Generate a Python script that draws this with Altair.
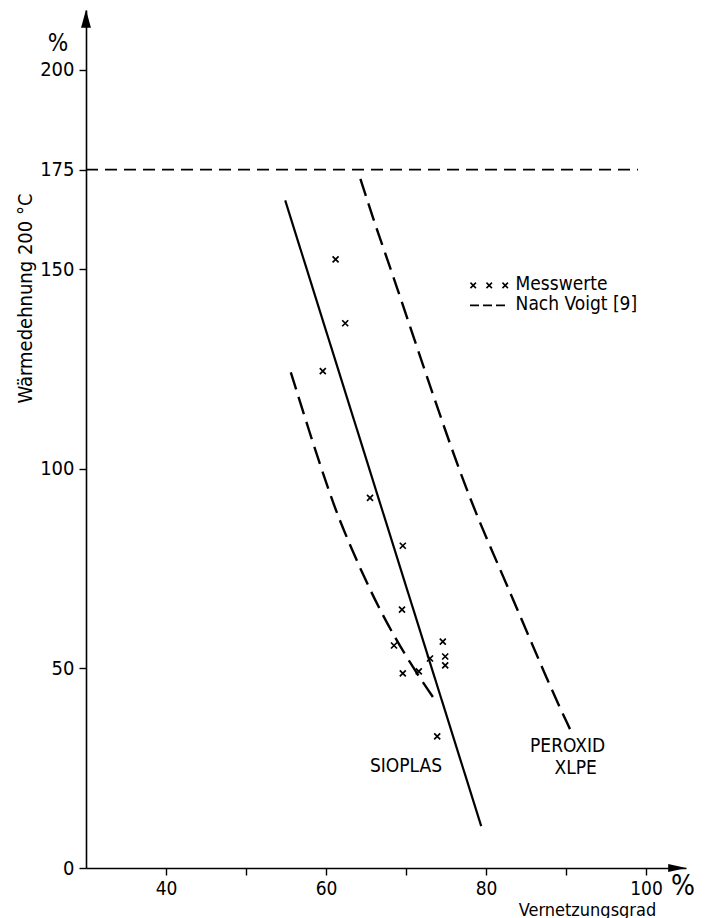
import altair as alt
import pandas as pd

FONT = "DejaVu Sans Condensed, Liberation Sans Narrow, Roboto, sans-serif"

# Measured values (Messwerte)
meas_x = [61.2, 62.4, 59.6, 65.5, 69.6, 69.5, 74.6, 68.5, 73.0, 74.9, 74.9, 69.6, 71.6, 73.9]
meas_y = [152.5, 136.5, 124.5, 92.75, 80.75, 64.75, 56.75, 55.75, 52.5, 53.0, 50.75, 48.75, 49.25, 33.0]

# SIOPLAS regression line (solid)
sioplas_x = [54.9, 79.4]
sioplas_y = [167.3, 10.5]

# Nach Voigt [9] – SIOPLAS (dashed)
voigt_s_x = [55.6, 58.2, 60.6, 62.3, 66.5, 70.7, 73.9]
voigt_s_y = [124.2, 107.5, 93.0, 84.0, 65.0, 50.6, 41.3]

# Nach Voigt [9] – PEROXID XLPE (dashed)
voigt_p_x = [64.3, 66.4, 68.0, 75.2, 78.8, 82.3, 88.1, 90.5]
voigt_p_y = [172.7, 159.6, 150.8, 107.5, 88.3, 72.5, 45.0, 34.8]

# Limit line
limit_x = [30, 99]
limit_y = [175, 175]

x_ticks = [40, 50, 60, 70, 80, 90, 100]
y_ticks = [0, 50, 100, 150, 175, 200]

X_DOM = [30, 105]
Y_DOM = [0, 215]

xs = alt.Scale(domain=X_DOM, nice=False, zero=False)
ys = alt.Scale(domain=Y_DOM, nice=False, zero=False)

x_axis = alt.Axis(
    values=x_ticks,
    labelExpr="datum.value % 20 == 0 ? datum.label : ''",
    tickSize=7, tickColor="black", tickWidth=1.4,
    domainColor="black", domainWidth=1.6,
    labelFontSize=19, labelFont=FONT, labelColor="black", labelPadding=4,
    grid=False,
    title="Vernetzungsgrad", titleFont=FONT, titleFontSize=18, titleFontWeight="normal",
    titleColor="black", titleX=501, titleY=42, titleAlign="center", titleBaseline="middle",
)
y_axis = alt.Axis(
    values=y_ticks,
    tickSize=7, tickColor="black", tickWidth=1.4,
    domainColor="black", domainWidth=1.6,
    labelFontSize=20, labelFont=FONT, labelColor="black", labelPadding=5,
    grid=False,
    title="Wärmedehnung 200 °C", titleFont=FONT, titleFontSize=20, titleFontWeight="normal",
    titleColor="black", titleAngle=270, titleX=-61, titleY=288,
    titleAlign="center", titleBaseline="middle",
)

def X(field="x"):
    return alt.X(f"{field}:Q", scale=xs, axis=x_axis)

def Y(field="y"):
    return alt.Y(f"{field}:Q", scale=ys, axis=y_axis)

meas_df = pd.DataFrame({"x": meas_x, "y": meas_y})
sio_df = pd.DataFrame({"x": sioplas_x, "y": sioplas_y})
vs_df = pd.DataFrame({"x": voigt_s_x, "y": voigt_s_y})
vp_df = pd.DataFrame({"x": voigt_p_x, "y": voigt_p_y})
lim_df = pd.DataFrame({"x": limit_x, "y": limit_y})

CROSS = "M-1,-1L1,1M-1,1L1,-1"

limit = alt.Chart(lim_df).mark_line(
    color="black", strokeWidth=1.7, strokeDash=[12, 7]
).encode(x=X(), y=Y())

sio = alt.Chart(sio_df).mark_line(color="black", strokeWidth=2.2).encode(x=X(), y=Y())
vs = alt.Chart(vs_df).mark_line(
    color="black", strokeWidth=2.4, strokeDash=[18, 8], interpolate="basis"
).encode(x=X(), y=Y(), order="x:Q")
vp = alt.Chart(vp_df).mark_line(
    color="black", strokeWidth=2.4, strokeDash=[18, 8], interpolate="basis"
).encode(x=X(), y=Y(), order="x:Q")

pts = alt.Chart(meas_df).mark_point(
    shape=CROSS, size=36, stroke="black", strokeWidth=1.7, filled=False, opacity=1
).encode(x=X(), y=Y())

# Arrow heads at the axis ends
arrow_x = alt.Chart(pd.DataFrame({"x": [103.9], "y": [0]})).mark_point(
    shape="M-1,-0.45L1,0L-1,0.45Z", size=324, filled=True, color="black", opacity=1
).encode(x=X(), y=Y())
arrow_y = alt.Chart(pd.DataFrame({"x": [30], "y": [212.8]})).mark_point(
    shape="M-0.55,1L0,-1L0.55,1Z", size=324, filled=True, color="black", opacity=1
).encode(x=X(), y=Y())

# Curve labels
lab_text = ["SIOPLAS", "PEROXID", "XLPE"]
lab_x = [70.0, 90.2, 91.2]
lab_y = [25.5, 30.5, 25.0]
labels = alt.Chart(pd.DataFrame({"x": lab_x, "y": lab_y, "t": lab_text})).mark_text(
    font=FONT, fontSize=19, color="black", align="center", baseline="middle"
).encode(x=X(), y=Y(), text="t:N")

# Legend
leg_cross = alt.Chart(pd.DataFrame({"x": [78.4, 80.4, 82.4], "y": [146.0] * 3})).mark_point(
    shape=CROSS, size=30, stroke="black", strokeWidth=1.5, filled=False, opacity=1
).encode(x=X(), y=Y())
leg_dash = alt.Chart(pd.DataFrame({"x": [78.0], "x2": [82.6], "y": [141.0]})).mark_rule(
    color="black", strokeWidth=1.8, strokeDash=[9, 4]
).encode(x=X(), x2="x2:Q", y=Y())
leg_text = alt.Chart(pd.DataFrame({"x": [83.7, 83.7], "y": [146.25, 141.25],
                                   "t": ["Messwerte", "Nach Voigt [9]"]})).mark_text(
    font=FONT, fontSize=19, color="black", align="left", baseline="middle"
).encode(x=X(), y=Y(), text="t:N")

# Unit signs at the axis ends
pct_y = alt.Chart(pd.DataFrame({"t": ["%"]})).mark_text(
    font=FONT, fontSize=24, color="black", align="center", baseline="middle"
).encode(x=alt.value(-28), y=alt.value(34), text="t:N")
pct_x = alt.Chart(pd.DataFrame({"t": ["%"]})).mark_text(
    font=FONT, fontSize=28, color="black", align="center", baseline="middle"
).encode(x=alt.value(597), y=alt.value(877), text="t:N")

chart = alt.layer(
    limit, sio, vs, vp, pts, arrow_x, arrow_y, labels,
    leg_cross, leg_dash, leg_text, pct_y, pct_x
).properties(
    width=600, height=858,
    autosize=alt.AutoSizeParams(type="none"),
    padding={"left": 78, "top": 2, "right": 12, "bottom": 50},
    background="white",
).configure_view(stroke=None)

chart.save("out.html", embed_options={"renderer": "svg", "actions": False})
